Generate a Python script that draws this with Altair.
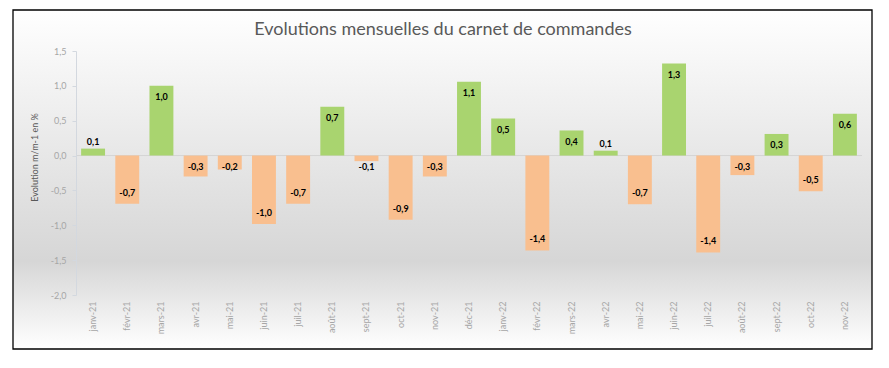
import altair as alt
import pandas as pd

months = ["janv-21", "févr-21", "mars-21", "avr-21", "mai-21", "juin-21", "juil-21",
          "août-21", "sept-21", "oct-21", "nov-21", "déc-21", "janv-22", "févr-22",
          "mars-22", "avr-22", "mai-22", "juin-22", "juil-22", "août-22", "sept-22",
          "oct-22", "nov-22"]
values = [0.1, -0.69, 1.0, -0.3, -0.2, -0.98, -0.69, 0.7, -0.08, -0.92, -0.3, 1.06,
          0.53, -1.36, 0.36, 0.07, -0.7, 1.32, -1.39, -0.28, 0.31, -0.51, 0.6]
y_ticks = [1.5, 1.0, 0.5, 0.0, -0.5, -1.0, -1.5, -2.0]

title_text = "Evolutions mensuelles du carnet de commandes"
y_title = "Evolution m/m-1 en %"

GREEN = "#A9D46F"
ORANGE = "#F9BF8F"
FONT = "Lato"

df = pd.DataFrame({"mois": months, "v": values})
W, H = 786, 244

FMT = "replace(replace(format({f}, '.1f'), '.', ','), '\u2212', '-')"

yscale = alt.Scale(domain=[-2, 1.5], nice=False, zero=False)
yaxis = alt.Axis(values=y_ticks, grid=False, domainColor="#d3d8df", tickColor="#d3d8df",
                 tickSize=4, labelPadding=6, labelFontSize=9, labelColor="#a6a6a6",
                 labelFont=FONT, labelOverlap=False,
                 labelExpr=FMT.format(f="datum.value"),
                 titleFont=FONT, titleFontSize=9, titleFontWeight="normal",
                 titleColor="#595959", titleAngle=-90, titleX=-42, titleY=106,
                 titleAlign="center", titleBaseline="middle", zindex=1)
xscale = alt.Scale(paddingInner=0.3, paddingOuter=0.15)
xaxis = alt.Axis(labelAngle=-90, domain=False, ticks=False, labelPadding=6,
                 labelFontSize=9, labelColor="#a6a6a6", labelFont=FONT, zindex=1)


def Y(field):
    return alt.Y(field, title=y_title, scale=yscale, axis=yaxis)


def X():
    return alt.X("mois:N", sort=months, title=None, scale=xscale, axis=xaxis)


base = alt.Chart(df)

bg = alt.Chart(pd.DataFrame({"a": [0]})).mark_rect(
    fill=alt.Gradient(
        gradient="linear", x1=0, x2=0, y1=0, y2=1,
        stops=[alt.GradientStop(offset=0, color="#ffffff"),
               alt.GradientStop(offset=0.74, color="#d6d6d6"),
               alt.GradientStop(offset=1, color="#ffffff")]),
    stroke="#000000", strokeWidth=1.3,
).encode(x=alt.value(-63), x2=alt.value(796), y=alt.value(-41), y2=alt.value(298))

title = alt.Chart(pd.DataFrame({"t": [title_text]})).mark_text(
    font=FONT, fontSize=18, color="#595959", baseline="alphabetic", align="center"
).encode(text="t:N", x=alt.value(367), y=alt.value(-16))

zero = alt.Chart(pd.DataFrame({"v": [0.0]})).mark_rule(color="#d4d4d4", strokeWidth=1).encode(
    y=Y("v:Q"), x=alt.value(0), x2=alt.value(W))

bars = base.mark_bar().encode(
    x=X(), y=Y("v:Q"),
    color=alt.condition("datum.v >= 0", alt.value(GREEN), alt.value(ORANGE)))

labels = base.transform_calculate(
    lab=FMT.format(f="datum.v"),
    ly="datum.v >= 0 ? (datum.v >= 0.25 ? datum.v - 0.16 : datum.v + 0.09) : min(datum.v + 0.16, -0.17)"
).mark_text(fontSize=9, fontWeight="bold", font=FONT, color="#000000", baseline="middle").encode(
    x=X(), y=Y("ly:Q"), text="lab:N")

chart = alt.layer(bg, title, zero, bars, labels).properties(
    width=W, height=H,
    autosize=alt.AutoSizeParams(type="none"),
    padding={"left": 68, "top": 43, "right": 19, "bottom": 65},
    background="#ffffff",
).configure_view(stroke=None)

chart.save("out.html", embed_options={"renderer": "svg", "actions": False})
